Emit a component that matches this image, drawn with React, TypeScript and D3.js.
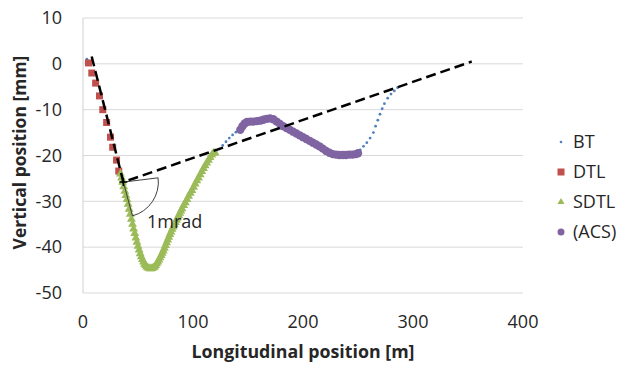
import * as d3 from 'd3';

// series: [longitudinal position m, vertical position mm]
const btPoints: [number, number][] = [
  [3.5, 1.0],
  [121, -19.2], [124, -18.6], [127, -17.8], [130, -17.0], [133, -16.2], [136, -15.5], [139, -14.9],
  [252, -18.8], [255, -18.0], [258, -17.2], [261, -16.2], [264, -15.0], [266, -13.6], [268, -12.3],
  [270, -11.0], [272, -9.8], [274, -8.7], [277, -7.5], [280, -6.6], [283, -5.9], [286, -5.2],
];

const dtlPoints: [number, number][] = [
  [5, 0.2], [8, -2], [11.5, -4.2], [15, -7], [18, -10], [21.5, -12.8], [25, -16], [27, -18.2], [30.5, -21], [32.5, -23.4],
];

const sdtlPoints: [number, number][] = [
  [34, -24.0], [35, -24.9], [36, -25.8], [37, -26.8], [38, -27.8], [39, -28.7], [40, -29.6], [41, -30.6],
  [42, -31.7], [43, -32.8], [44, -33.9], [45, -35.0], [46, -36.0], [47, -37.0], [48, -38.0], [49, -38.9],
  [50, -39.8], [51, -40.6], [52, -41.4], [53, -42.1], [54, -42.7], [55, -43.2], [56, -43.7], [57, -44.0],
  [58, -44.3], [59, -44.5], [60, -44.6], [61, -44.7], [62, -44.7], [63, -44.6], [64, -44.5], [65, -44.3],
  [66, -44.0], [67, -43.6], [68, -43.2], [69, -42.8], [70, -42.3], [71, -41.8], [72, -41.3], [73, -40.8],
  [74, -40.2], [75, -39.6], [76, -39.0], [77, -38.4], [78, -37.8], [79, -37.2], [80, -36.7], [81, -36.1],
  [82, -35.6], [83, -35.1], [84, -34.6], [85, -34.1], [86, -33.6], [87, -33.1], [88, -32.6], [89, -32.1],
  [90, -31.6], [91.5, -30.9], [93, -30.3], [94.5, -29.6], [96, -28.9], [97.5, -28.2], [99, -27.6],
  [100.5, -26.9], [102, -26.2], [103.5, -25.5], [105, -24.9], [106.5, -24.2], [108, -23.5], [109.5, -22.8],
  [111, -22.2], [112.5, -21.6], [114, -21.0], [115.5, -20.4], [117, -19.9], [118.5, -19.5], [120, -19.4],
];

const acsPoints: [number, number][] = [
  [143, -14.4], [145, -13.6], [147, -13.0], [149, -12.7], [152, -12.6], [155, -12.6], [158, -12.5],
  [161, -12.4], [164, -12.2], [167, -12.0], [170, -11.9], [173, -12.1], [176, -12.6], [179, -13.1],
  [182, -13.6], [185, -14.0], [188, -14.4], [191, -14.8], [194, -15.2], [197, -15.6], [200, -16.0],
  [203, -16.4], [206, -16.8], [209, -17.2], [212, -17.6], [215, -18.0], [218, -18.5], [221, -19.0],
  [224, -19.4], [227, -19.7], [230, -19.8], [233, -19.9], [236, -19.9], [239, -19.9], [242, -19.8],
  [245, -19.8], [248, -19.7], [250, -19.5],
];

// dashed guide line and the kink where the 1mrad angle sits
const guidePoints: [number, number][] = [[7.9, 1.6], [36.7, -25.8], [353.4, 0.5]];
const angleLabel = '1mrad';

const xTicks = [0, 100, 200, 300, 400];
const yTicks = [10, 0, -10, -20, -30, -40, -50];
const legendNames = ['BT', 'DTL', 'SDTL', '(ACS)'];
const colors = ['#4f81bd', '#c0504d', '#9bbb59', '#8064a2'];

const W = 621;
const H = 365;
const font = '"Open Sans", sans-serif';

export default function App() {
  const x = d3.scaleLinear().domain([0, 400]).range([83, 523]);
  const y = d3.scaleLinear().domain([-50, 10]).range([293, 18]);

  const tri = d3.symbol().type(d3.symbolTriangle).size(34)()!;
  const triSmall = d3.symbol().type(d3.symbolTriangle).size(22)()!;
  const line = d3.line<[number, number]>().x(d => x(d[0])).y(d => y(d[1]));

  const kink = guidePoints[1];
  const arc = d3.arc()({
    innerRadius: 0,
    outerRadius: 35,
    startAngle: (83 * Math.PI) / 180,
    endAngle: (165 * Math.PI) / 180,
  } as any)!;

  const legendMarker = (i: number) => {
    if (i === 0) return <circle r={1.3} fill={colors[0]} />;
    if (i === 1) return <rect x={-3.5} y={-3.5} width={7} height={7} fill={colors[1]} />;
    if (i === 2) return <path d={triSmall} fill={colors[2]} />;
    return <circle r={3.5} fill={colors[3]} />;
  };

  return (
    <svg width={W} height={H} style={{ position: 'absolute', left: 0, top: 0, background: '#fff' }} fontFamily={font}>
      {yTicks.map(t => (
        <line key={t} x1={x(0)} x2={x(400)} y1={y(t)} y2={y(t)} stroke="#d9d9d9" strokeWidth={1} />
      ))}
      <line x1={x(0)} x2={x(0)} y1={y(10)} y2={y(-50)} stroke="#d0d0d0" strokeWidth={1} />

      {yTicks.map(t => (
        <text key={t} x={62} y={y(t)} dy="0.35em" textAnchor="end" fontSize={18} fill="#262626">{t}</text>
      ))}
      {xTicks.map(t => (
        <text key={t} x={x(t)} y={322} dy="0.35em" textAnchor="middle" fontSize={18} fill="#262626">{t}</text>
      ))}
      <text x={x(200)} y={352} dy="0.35em" textAnchor="middle" fontSize={17.8} fontWeight="bold" fill="#262626">
        Longitudinal position [m]
      </text>
      <text transform={`translate(20,${y(-20) - 3}) rotate(-90)`} dy="0.35em" textAnchor="middle" fontSize={17.5} fontWeight="bold" fill="#262626">
        Vertical position [mm]
      </text>

      {btPoints.map((d, i) => (
        <circle key={i} cx={x(d[0])} cy={y(d[1])} r={1.4} fill={colors[0]} />
      ))}
      {dtlPoints.map((d, i) => (
        <rect key={i} x={x(d[0]) - 3.5} y={y(d[1]) - 3.5} width={7} height={7} fill={colors[1]} />
      ))}
      {sdtlPoints.map((d, i) => (
        <path key={i} d={tri} transform={`translate(${x(d[0])},${y(d[1])})`} fill={colors[2]} />
      ))}
      {acsPoints.map((d, i) => (
        <circle key={i} cx={x(d[0])} cy={y(d[1])} r={4.2} fill={colors[3]} />
      ))}

      <path d={line(guidePoints)!} fill="none" stroke="#000" strokeWidth={2.5} strokeDasharray="10,5" />

      <g transform={`translate(${x(kink[0])},${y(kink[1])})`}>
        <path d={arc} fill="none" stroke="#404040" strokeWidth={1} />
        <path d="M-4,0H4M0,-4V4" stroke="#000" strokeWidth={1.5} />
      </g>
      <text x={147} y={222} dy="0.35em" fontSize={18} fill="#262626">{angleLabel}</text>

      {legendNames.map((n, i) => (
        <g key={n} transform={`translate(561,${142 + i * 30})`}>
          {legendMarker(i)}
          <text x={12} dy="0.35em" fontSize={18} fill="#262626">{n}</text>
        </g>
      ))}
    </svg>
  );
}
